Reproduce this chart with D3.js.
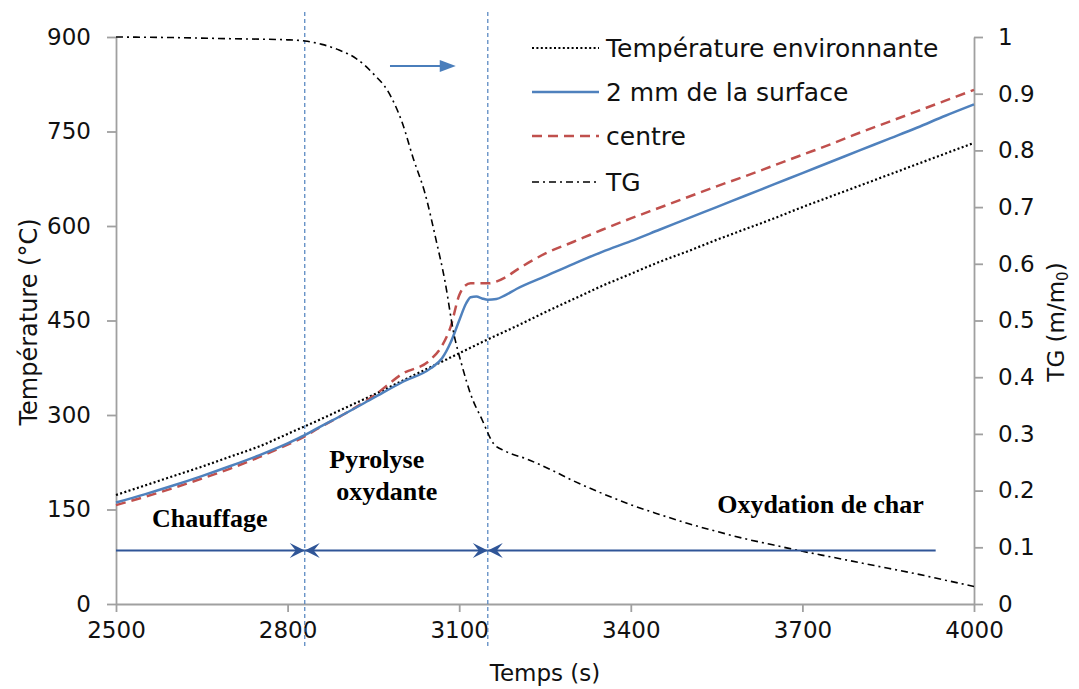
<!DOCTYPE html>
<html>
<head>
<meta charset="utf-8">
<script src="https://cdn.jsdelivr.net/npm/d3@7"></script>
<style>
  html, body { margin: 0; padding: 0; background: #fff; }
  svg { display: block; }
</style>
</head>
<body>
<svg id="chart" width="1079" height="689"></svg>
<script>
// ---------- DATA ----------
const ambientTime = [2500,2550,2600,2650,2700,2750,2800,2850,2900,2950,3000,3050,3100,3150,3200,3250,3300,3350,3400,3450,3500,3550,3600,3650,3700,3750,3800,3850,3900,3950,4000];
const ambientTemp = [173,188,203,218,234,250,270,290,311,332,354,376,398,420,441,463,484,505,524,543,560,578,595,612,630,647,664,681,698,715,732];

const surfaceTime = [2500,2550,2600,2650,2700,2750,2800,2830,2850,2900,2950,3000,3050,3070,3085,3100,3112,3120,3130,3140,3150,3165,3180,3200,3250,3300,3350,3400,3450,3500,3550,3600,3650,3700,3750,3800,3850,3900,3950,4000];
const surfaceTemp = [161,174,188,203,219,236,255,268,278,302,327,352,374,390,415,450,477,487,488,485,483,484,490,500,520,540,559,576,594,612,630,648,666,684,702,720,738,756,775,793];

const centreTime = [2500,2550,2600,2650,2700,2750,2800,2830,2850,2900,2950,3000,3050,3070,3085,3100,3110,3120,3150,3180,3200,3250,3300,3350,3400,3450,3500,3550,3600,3650,3700,3750,3800,3850,3900,3950,4000];
const centreTemp = [157,170,184,199,215,233,253,266,277,302,330,365,388,410,440,490,505,509,509,518,530,556,575,594,612,629,646,663,679,696,713,730,748,765,782,799,816];

const tgTime = [2500,2600,2700,2800,2830,2860,2890,2920,2950,2975,3000,3020,3040,3060,3075,3090,3105,3120,3140,3160,3180,3220,3260,3300,3350,3400,3450,3500,3550,3600,3650,3700,3750,3800,3850,3900,3950,4000];
const tgValue = [1.0,0.999,0.997,0.995,0.993,0.987,0.977,0.962,0.935,0.905,0.85,0.785,0.725,0.64,0.57,0.48,0.42,0.37,0.325,0.283,0.27,0.255,0.237,0.217,0.195,0.175,0.158,0.142,0.128,0.115,0.104,0.093,0.083,0.073,0.063,0.053,0.042,0.031];

const xTicks = [2500,2800,3100,3400,3700,4000];
const yTempTicks = [0,150,300,450,600,750,900];
const yTgTicks = [0,0.1,0.2,0.3,0.4,0.5,0.6,0.7,0.8,0.9,1];

const phaseBounds = [2830, 3150];   // vertical dashed lines (s)
const phaseArrowLevel = 85;          // °C level of phase arrows
const phaseArrowEnd = 3933;
const tgArrow = {t0: 2979, t1: 3094, temp: 854};

const legendLabels = ["Température environnante", "2 mm de la surface", "centre", "TG"];

// ---------- LAYOUT ----------
const svg = d3.select("#chart");
const L = 116, R = 974, T = 37, B = 604;
const x = d3.scaleLinear().domain([2500, 4000]).range([L, R]);
const yT = d3.scaleLinear().domain([0, 900]).range([B, T]);
const yG = d3.scaleLinear().domain([0, 1]).range([B, T]);

const font = "'DejaVu Sans', sans-serif";
const axisColor = "#a0a0a0";

// ---------- AXES ----------
function styleAxis(g) {
  g.select(".domain").attr("stroke", axisColor).attr("stroke-width", 1.8);
  g.selectAll(".tick line").attr("stroke", axisColor).attr("stroke-width", 1.8);
  g.selectAll(".tick text").attr("fill", "#111").style("font-family", font).style("font-size", "23px");
}

const gx = svg.append("g").attr("transform", `translate(0,${B})`)
  .call(d3.axisBottom(x).tickValues(xTicks).tickFormat(d3.format("d")).tickSize(8).tickSizeOuter(0).tickPadding(10));
styleAxis(gx);
gx.selectAll(".tick text").attr("dy", "0.71em");

const gyl = svg.append("g").attr("transform", `translate(${L},0)`)
  .call(d3.axisLeft(yT).tickValues(yTempTicks).tickFormat(d3.format("d")).tickSize(9).tickSizeOuter(0).tickPadding(16));
styleAxis(gyl);

const gyr = svg.append("g").attr("transform", `translate(${R},0)`)
  .call(d3.axisRight(yG).tickValues(yTgTicks).tickFormat(d => d === 0 ? "0" : d === 1 ? "1" : d3.format(".1f")(d)).tickSize(9).tickSizeOuter(0).tickPadding(15));
styleAxis(gyr);

// axis titles
svg.append("text").attr("x", 545).attr("y", 681).attr("text-anchor", "middle")
  .style("font-family", font).style("font-size", "23px").attr("fill", "#111").text("Temps (s)");
svg.append("text").attr("transform", "translate(37,322) rotate(-90)").attr("text-anchor", "middle")
  .style("font-family", font).style("font-size", "24px").attr("fill", "#111").text("Température (°C)");
const tgTitle = svg.append("text").attr("transform", "translate(1064,322) rotate(-90)").attr("text-anchor", "middle")
  .style("font-family", font).style("font-size", "23px").attr("fill", "#111");
tgTitle.append("tspan").text("TG (m/m");
tgTitle.append("tspan").attr("dy", 4).style("font-size", "15px").text("0");
tgTitle.append("tspan").attr("dy", -4).text(")");

// ---------- PHASE LINES ----------
phaseBounds.forEach(t => {
  svg.append("line").attr("x1", x(t)).attr("x2", x(t)).attr("y1", 12).attr("y2", 648)
    .attr("stroke", "#4f81bd").attr("stroke-width", 1.2).attr("stroke-dasharray", "4,3");
});

// ---------- SERIES ----------
const line = d3.line().curve(d3.curveMonotoneX);
function path(times, vals, ys) { return line(times.map((t, i) => [x(t), ys(vals[i])])); }

svg.append("path").attr("d", path(ambientTime, ambientTemp, yT)).attr("fill", "none")
  .attr("stroke", "#000").attr("stroke-width", 2.2).attr("stroke-dasharray", "2,2.4");
svg.append("path").attr("d", path(centreTime, centreTemp, yT)).attr("fill", "none")
  .attr("stroke", "#c0504d").attr("stroke-width", 2.5).attr("stroke-dasharray", "10,6");
svg.append("path").attr("d", path(surfaceTime, surfaceTemp, yT)).attr("fill", "none")
  .attr("stroke", "#4f81bd").attr("stroke-width", 2.5);
svg.append("path").attr("d", path(tgTime, tgValue, yG)).attr("fill", "none")
  .attr("stroke", "#000").attr("stroke-width", 1.6).attr("stroke-dasharray", "7,4,2,4");

// ---------- PHASE ARROWS ----------
const arrowColor = "#2f5597";
const ay = yT(phaseArrowLevel);
const segs = [[2500, phaseBounds[0]], [phaseBounds[0], phaseBounds[1]], [phaseBounds[1], phaseArrowEnd]];
segs.forEach(s => {
  svg.append("line").attr("x1", x(s[0])).attr("x2", x(s[1])).attr("y1", ay).attr("y2", ay)
    .attr("stroke", arrowColor).attr("stroke-width", 2);
});
function head(tipX, tipY, dir, color, len, hw) {
  const bx = tipX - dir * len, nx = tipX - dir * len * 0.6;
  svg.append("path").attr("d", `M${tipX},${tipY} L${bx},${tipY - hw} L${nx},${tipY} L${bx},${tipY + hw} Z`)
    .attr("fill", color);
}
phaseBounds.forEach(t => {
  head(x(t), ay, 1, arrowColor, 15, 7.5);
  head(x(t), ay, -1, arrowColor, 15, 7.5);
});

// ---------- TG ARROW ----------
const tay = yT(tgArrow.temp);
svg.append("line").attr("x1", x(tgArrow.t0)).attr("x2", x(tgArrow.t1) - 8).attr("y1", tay).attr("y2", tay)
  .attr("stroke", "#4a7ebb").attr("stroke-width", 2);
svg.append("path").attr("d", `M${x(tgArrow.t1)},${tay} L${x(tgArrow.t1) - 16},${tay - 6} L${x(tgArrow.t1) - 16},${tay + 6} Z`)
  .attr("fill", "#4a7ebb");

// ---------- PHASE LABELS ----------
const serif = "'Liberation Serif', 'Times New Roman', serif";
const phaseLabels = [
  {text: "Chauffage", t: 2563, v: 122},
  {text: "Pyrolyse", t: 2873, v: 216},
  {text: "oxydante", t: 2885, v: 165},
  {text: "Oxydation de char", t: 3551, v: 145}
];
phaseLabels.forEach(p => {
  svg.append("text").attr("x", x(p.t)).attr("y", yT(p.v))
    .style("font-family", serif).style("font-size", "26px").style("font-weight", "bold")
    .attr("fill", "#000").text(p.text);
});

// ---------- LEGEND ----------
const legY = [48, 92, 136, 182];
const legStyles = [
  {stroke: "#000", w: 2.2, dash: "2,2.4"},
  {stroke: "#4f81bd", w: 2.5, dash: null},
  {stroke: "#c0504d", w: 2.5, dash: "10,6"},
  {stroke: "#000", w: 1.6, dash: "7,4,2,4"}
];
legendLabels.forEach((lab, i) => {
  const st = legStyles[i];
  const ln = svg.append("line").attr("x1", 532).attr("x2", 599).attr("y1", legY[i]).attr("y2", legY[i])
    .attr("stroke", st.stroke).attr("stroke-width", st.w);
  if (st.dash) ln.attr("stroke-dasharray", st.dash);
  svg.append("text").attr("x", 606).attr("y", legY[i] + 9)
    .style("font-family", font).style("font-size", "25px").attr("fill", "#111").text(lab);
});
</script>
</body>
</html>
